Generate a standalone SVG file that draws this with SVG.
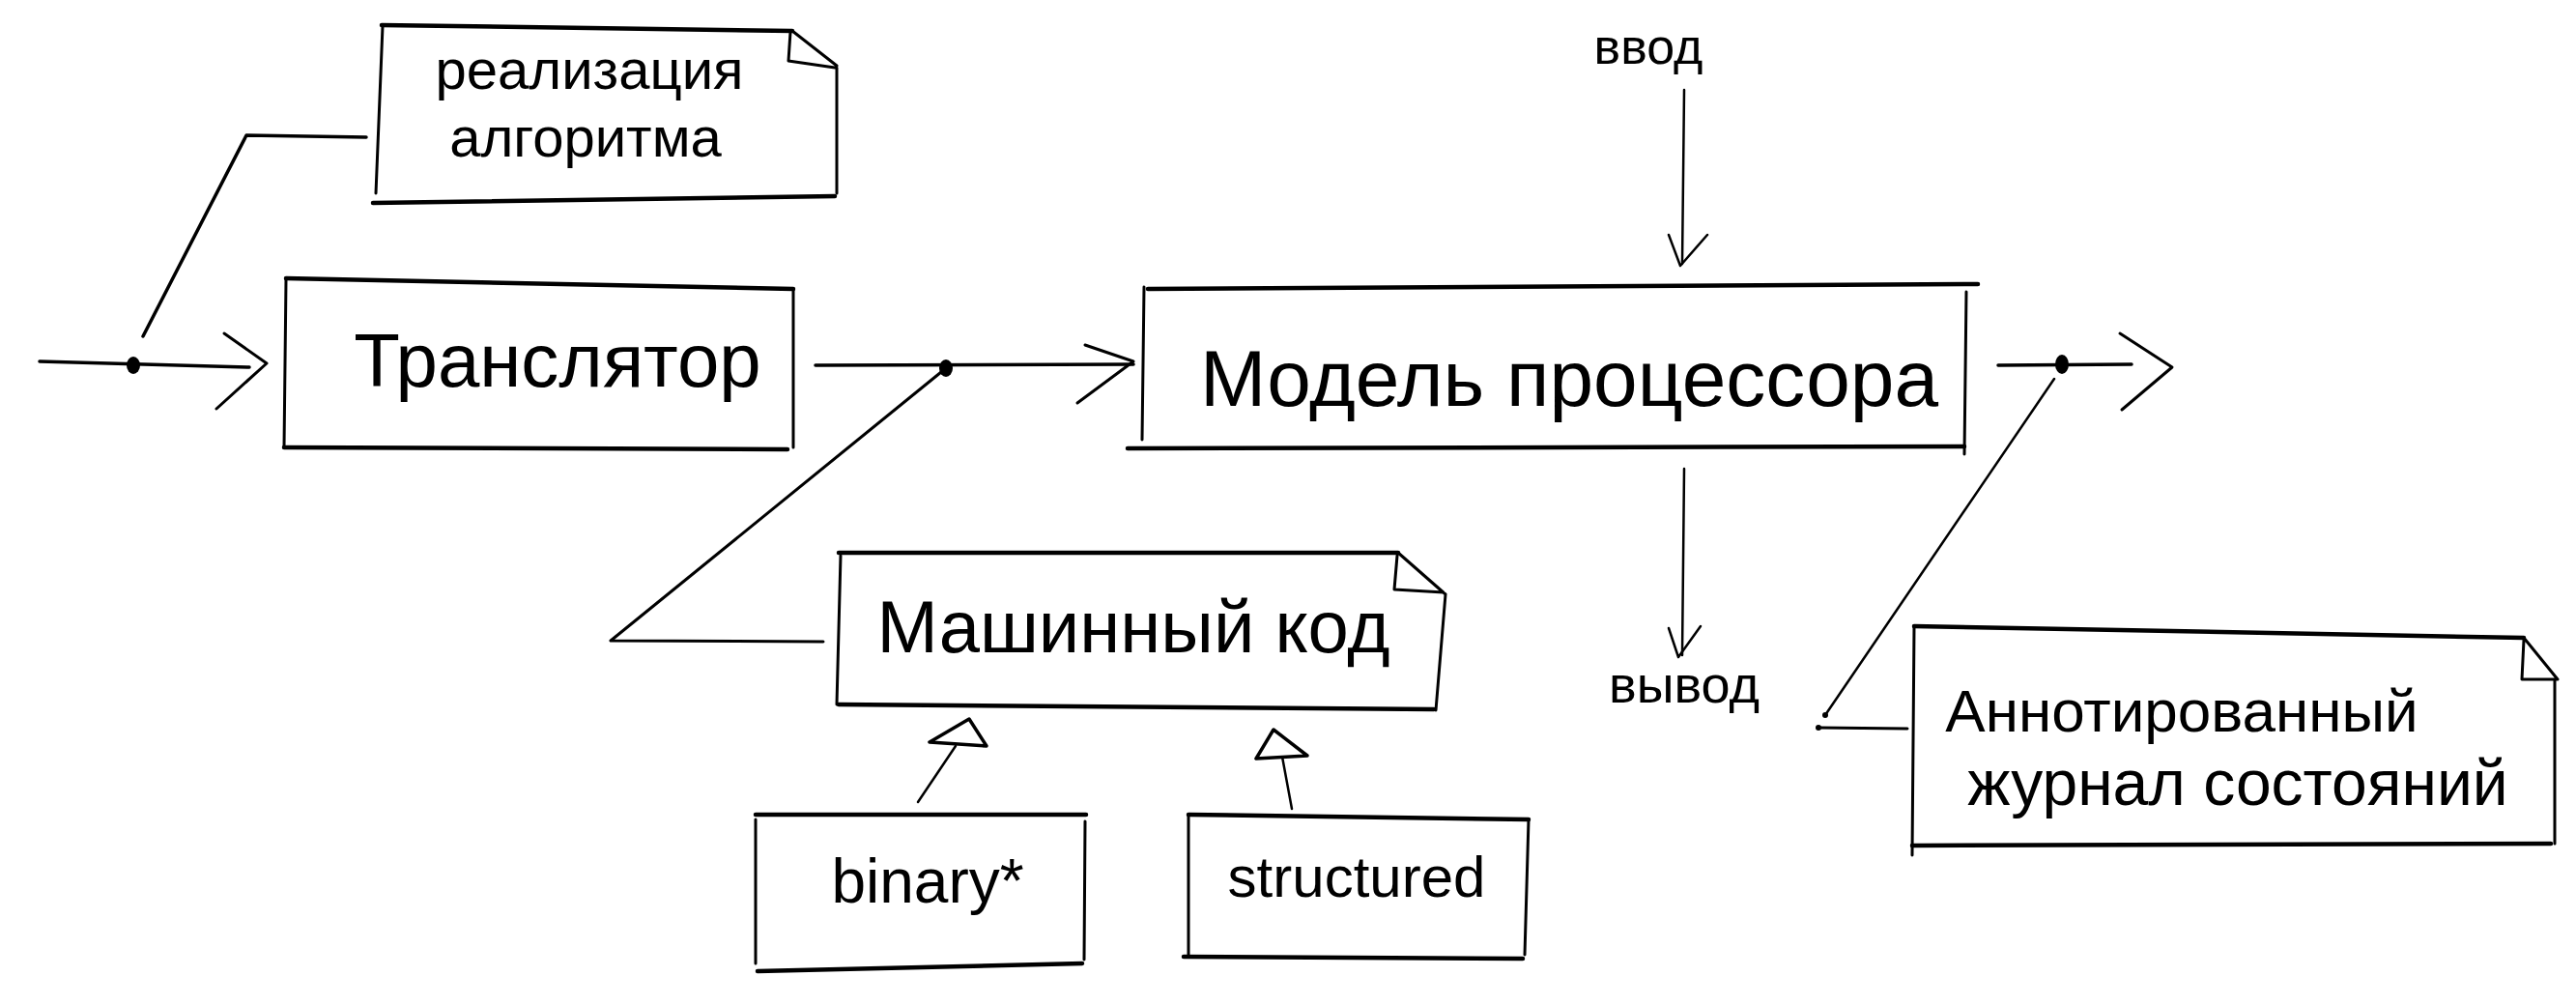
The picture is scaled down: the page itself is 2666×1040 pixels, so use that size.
<svg xmlns="http://www.w3.org/2000/svg" width="2666" height="1040" viewBox="0 0 2666 1040">
<style>
.edge{fill:none;stroke:#000;stroke-width:4.5;stroke-linecap:round;stroke-linejoin:round}
.side{fill:none;stroke:#000;stroke-width:3;stroke-linecap:round;stroke-linejoin:round}
.conn{fill:none;stroke:#000;stroke-width:3.5;stroke-linecap:round;stroke-linejoin:round}
.thin{fill:none;stroke:#000;stroke-width:2.5;stroke-linecap:round;stroke-linejoin:round}
.tri{fill:#fff;stroke:#000;stroke-width:3.5;stroke-linejoin:round}
.dot{fill:#000}
.t{font-family:"Liberation Sans","DejaVu Sans",sans-serif;fill:#000;text-anchor:middle}
</style>
<rect width="2666" height="1040" fill="#fff"/>

<g id="note-algorithm">
<path class="edge" d="M395,26 L820,32 M386,210 L864,203"/>
<path class="side" d="M396,27 L389,200 M820,32 L866,68 M818,33 L816,63 L864,70 M866,70 L866,200"/>
<text class="t" x="610" y="92" font-size="58">реализация</text>
<text class="t" x="606" y="162" font-size="58">алгоритма</text>
</g>

<g id="translator">
<path class="edge" d="M296,288 L821,299 M294,463 L815,465"/>
<path class="side" d="M296,289 L294,463 M821,299 L821,463"/>
<text class="t" x="577" y="400" font-size="78">Транслятор</text>
</g>

<g id="processor-model">
<path class="edge" d="M1188,299 L2047,294 M1167,464 L2033,462"/>
<path class="side" d="M1184,297 L1182,455 M2035,302 L2033,470"/>
<text class="t" x="1624" y="420" font-size="82">Модель процессора</text>
</g>

<g id="machine-code">
<path class="edge" d="M868,572 L1447,572 M868,729 L1484,734"/>
<path class="side" d="M870,575 L866,729 M1447,572 L1496,615 M1446,575 L1443,610 L1494,613 M1496,615 L1486,735"/>
<text class="t" x="1173" y="675" font-size="76">Машинный код</text>
</g>

<g id="binary">
<path class="edge" d="M782,843 L1124,843 M784,1005 L1120,997"/>
<path class="side" d="M782,848 L782,997 M1123,850 L1122,993"/>
<text class="t" x="960" y="934" font-size="64">binary*</text>
</g>

<g id="structured">
<path class="edge" d="M1230,843 L1582,848 M1225,990 L1576,992"/>
<path class="side" d="M1230,843 L1230,990 M1582,848 L1578,988"/>
<text class="t" x="1404" y="928" font-size="60">structured</text>
</g>

<g id="annotated-log">
<path class="edge" d="M1981,648 L2612,660 M1979,875 L2640,873"/>
<path class="side" d="M1981,648 L1979,885 M2612,660 L2647,703 M2612,662 L2610,703 L2647,703 M2644,703 L2644,873"/>
<text class="t" x="2258" y="757" font-size="62">Аннотированный</text>
<text class="t" x="2316" y="833" font-size="66">журнал состояний</text>
</g>

<g id="input-label">
<text class="t" x="1706" y="66" font-size="52">ввод</text>
</g>

<g id="output-label">
<text class="t" x="1743" y="727" font-size="54">вывод</text>
</g>

<g id="connectors">
<path class="conn" d="M41,374 L258,380"/>
<path class="side" d="M232,345 L276,376 L224,423"/>
<ellipse class="dot" cx="138" cy="378" rx="7" ry="9"/>
<path class="conn" d="M379,142 L255,140 L148,348"/>
<path class="conn" d="M844,378 L1173,377"/>
<path class="side" d="M1123,357 L1173,374 L1115,417"/>
<ellipse class="dot" cx="979" cy="381" rx="7" ry="9"/>
<path class="side" d="M979,381 L632,663 L852,664"/>
<path class="thin" d="M1743,93 L1741,273"/>
<path class="thin" d="M1727,243 L1739,275 L1767,243"/>
<path class="thin" d="M1743,485 L1741,678"/>
<path class="thin" d="M1727,650 L1737,680 L1760,648"/>
<path class="conn" d="M2068,378 L2206,377"/>
<path class="side" d="M2194,345 L2248,380 L2196,424"/>
<ellipse class="dot" cx="2134" cy="377" rx="7" ry="10"/>
<path class="thin" d="M2126,392 L1889,740"/>
<path class="side" d="M1882,753 L1974,754"/>
<circle class="dot" cx="1882" cy="753" r="3"/>
<circle class="dot" cx="1889" cy="740" r="3"/>
<path class="thin" d="M950,830 L989,772"/>
<path class="tri" d="M1003,744 L962,768 L1021,772 Z"/>
<path class="thin" d="M1337,837 L1327,783"/>
<path class="tri" d="M1318,755 L1300,785 L1353,782 Z"/>
</g>
</svg>
